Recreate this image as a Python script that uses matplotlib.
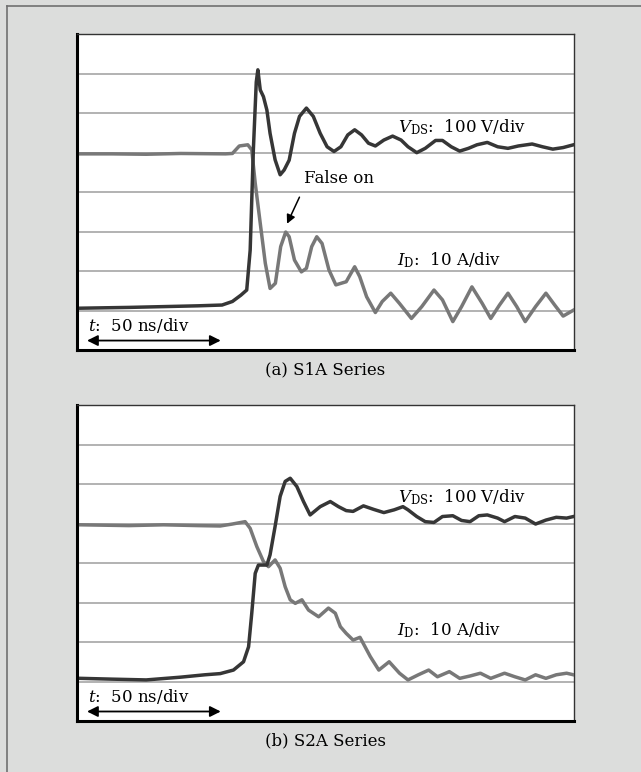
import matplotlib
matplotlib.use("Agg")
import matplotlib.pyplot as plt
from matplotlib.lines import Line2D

plt.rcParams["font.family"] = "DejaVu Serif"
plt.rcParams["mathtext.fontset"] = "dejavuserif"

# time in ns, levels in scope divisions
# (a) S1A Series
t_vds_a = [1.2, 19.4, 32.4, 45.4, 54.5, 58.4, 61.6, 63.8, 65.1, 66.3, 67.4, 68.0, 68.9, 70.1,
           71.4, 72.6, 74.5, 76.4, 77.9, 79.8, 81.8, 83.7, 86.3, 88.9, 91.5, 94.1, 96.7, 99.3,
           101.9, 104.5, 107.1, 109.7, 112.3, 115.5, 118.8, 122.0, 124.6, 127.9, 131.1, 135.0,
           137.6, 140.9, 144.1, 147.4, 150.6, 154.5, 158.4, 162.3, 166.2, 171.4, 175.3, 179.2,
           183.1, 187.0]
vds_a = [1.06, 1.08, 1.10, 1.12, 1.14, 1.23, 1.39, 1.52, 2.53, 5.07, 6.79, 7.10, 6.59, 6.42,
         6.08, 5.49, 4.82, 4.44, 4.56, 4.81, 5.49, 5.92, 6.13, 5.92, 5.49, 5.15, 5.03, 5.15,
         5.45, 5.58, 5.45, 5.24, 5.17, 5.32, 5.42, 5.32, 5.15, 5.00, 5.11, 5.31,
         5.31, 5.15, 5.04, 5.11, 5.20, 5.26, 5.15, 5.11, 5.17, 5.22, 5.15, 5.09,
         5.13, 5.20]
t_id_a = [1.2, 12.9, 25.9, 38.9, 55.8, 58.4, 61.0, 64.2, 65.7, 67.0, 68.9, 70.8, 72.6, 74.6,
          76.6, 78.5, 79.8, 81.8, 84.4, 86.3, 88.3, 90.2, 92.2, 94.8, 97.4, 101.3, 104.5,
          106.4, 109.0, 112.3, 114.9, 118.1, 121.4, 125.9, 129.8, 134.4, 137.6, 141.5, 144.8,
          148.7, 152.6, 155.8, 159.1, 162.3, 165.6, 168.8, 172.7, 176.6, 179.9, 183.1, 187.0]
id_a = [4.97, 4.97, 4.96, 4.98, 4.97, 4.98, 5.17, 5.20, 5.07, 4.23, 3.21, 2.20, 1.56, 1.69,
        2.62, 2.99, 2.87, 2.28, 1.98, 2.07, 2.62, 2.87, 2.70, 2.03, 1.65, 1.73, 2.11,
        1.86, 1.35, 0.95, 1.23, 1.44, 1.18, 0.80, 1.10, 1.52, 1.27, 0.72, 1.10,
        1.60, 1.18, 0.80, 1.14, 1.44, 1.10, 0.72, 1.10, 1.44, 1.14, 0.86, 1.01]

# (b) S2A Series
t_vds_b = [1.2, 12.9, 25.9, 38.9, 48.0, 53.8, 58.8, 62.6, 64.5, 65.7, 67.0, 68.2, 71.4, 72.6,
           74.5, 76.4, 78.3, 80.2, 82.7, 85.2, 87.7, 91.5, 95.3, 98.4, 101.3, 103.9, 107.8,
           111.7, 115.5, 119.4, 122.7, 124.6, 127.9, 131.1, 134.4, 137.6, 141.5, 144.8, 148.0,
           151.3, 154.5, 158.4, 161.0, 164.9, 168.8, 172.7, 176.6, 180.5, 184.4, 187.0]
vds_b = [1.08, 1.06, 1.04, 1.11, 1.17, 1.20, 1.29, 1.50, 1.88, 2.73, 3.74, 3.95, 3.95, 4.21,
         4.93, 5.69, 6.07, 6.15, 5.94, 5.56, 5.22, 5.43, 5.56, 5.43, 5.33, 5.31, 5.45,
         5.36, 5.28, 5.35, 5.43, 5.35, 5.18, 5.05, 5.03, 5.18, 5.20, 5.08, 5.05,
         5.20, 5.22, 5.14, 5.05, 5.18, 5.14, 4.99, 5.09, 5.16, 5.14, 5.18]
t_id_b = [1.2, 19.4, 32.4, 45.4, 53.8, 58.4, 63.2, 65.1, 67.6, 70.1, 72.0, 74.5, 76.4, 78.3,
          80.2, 82.1, 84.6, 87.1, 90.9, 94.6, 97.2, 99.1, 101.3, 103.9, 106.5, 110.4, 113.6,
          117.5, 121.4, 124.6, 128.5, 132.4, 135.7, 140.2, 144.1, 148.0, 151.9, 155.8, 161.0,
          164.9, 168.8, 172.7, 176.6, 180.5, 184.4, 187.0]
id_b = [4.97, 4.95, 4.97, 4.95, 4.94, 4.99, 5.05, 4.88, 4.42, 4.04, 3.91, 4.08, 3.87, 3.40,
        3.07, 2.98, 3.07, 2.81, 2.64, 2.86, 2.73, 2.39, 2.22, 2.05, 2.12, 1.63, 1.29,
        1.50, 1.21, 1.04, 1.17, 1.29, 1.12, 1.25, 1.08, 1.14, 1.21, 1.08, 1.21,
        1.12, 1.04, 1.17, 1.08, 1.17, 1.21, 1.17]

grid_levels = [1, 2, 3, 4, 5, 6, 7]
captions = ["(a) S1A Series", "(b) S2A Series"]

bg = "#dcdddc"
dark = "#363636"
gray = "#787878"

fig = plt.figure(figsize=(6.41, 7.72), dpi=100, facecolor=bg)
fig.add_artist(Line2D([7 / 641, 7 / 641], [0, 1 - 6 / 772], transform=fig.transFigure,
                      color="#707070", lw=1.2))
fig.add_artist(Line2D([7 / 641, 1], [1 - 6 / 772, 1 - 6 / 772], transform=fig.transFigure,
                      color="#707070", lw=1.2))

panels = [
    (0.5466, t_vds_a, vds_a, t_id_a, id_a),
    (0.0661, t_vds_b, vds_b, t_id_b, id_b),
]

for k, (bottom, tv, v, ti, i) in enumerate(panels):
    ax = fig.add_axes([0.1209, bottom, 0.7738, 0.4090])
    ax.set_facecolor("white")
    for g in grid_levels:
        ax.axhline(g, color="#b2b2b2", lw=1.4, zorder=1)
    ax.plot(ti, i, color=gray, lw=2.5, zorder=3, solid_joinstyle="round")
    ax.plot(tv, v, color=dark, lw=2.5, zorder=4, solid_joinstyle="round")
    ax.set_xlim(0, 187)
    ax.set_ylim(0, 8)
    ax.set_xticks([])
    ax.set_yticks([])
    for side in ["left", "bottom"]:
        ax.spines[side].set_linewidth(2.2)
        ax.spines[side].set_color("black")
    for side in ["top", "right"]:
        ax.spines[side].set_linewidth(1.0)
        ax.spines[side].set_color("#333333")

    vlab_y = 5.65 if k == 0 else 5.67
    ilab_y = 2.28 if k == 0 else 2.29
    ax.text(121, vlab_y, r"$V_{\mathrm{DS}}$:  100 V/div", fontsize=12, va="center", ha="left",
            zorder=5)
    ax.text(120.5, ilab_y, r"$I_{\mathrm{D}}$:  10 A/div", fontsize=12, va="center", ha="left",
            zorder=5)
    ax.text(3.8, 0.63, r"$t$:  50 ns/div", fontsize=12, va="center", ha="left", zorder=5)
    ax.annotate("", xy=(54.0, 0.24), xytext=(3.6, 0.24),
                arrowprops=dict(arrowstyle="<|-|>", color="black", lw=1.3,
                                mutation_scale=16, shrinkA=0, shrinkB=0))
    ax.text(93.5, -0.51, captions[k], fontsize=12, ha="center", va="center",
            transform=ax.transData, clip_on=False)

    if k == 0:
        ax.annotate("False on", xy=(79.0, 3.2), xytext=(85.5, 4.35), fontsize=12,
                    ha="left", va="center",
                    arrowprops=dict(arrowstyle="-|>", color="black", lw=1.1,
                                    mutation_scale=13, shrinkA=6, shrinkB=0,
                                    relpos=(0.0, 0.0)))

fig.savefig("out.png", dpi=100, facecolor=bg)
